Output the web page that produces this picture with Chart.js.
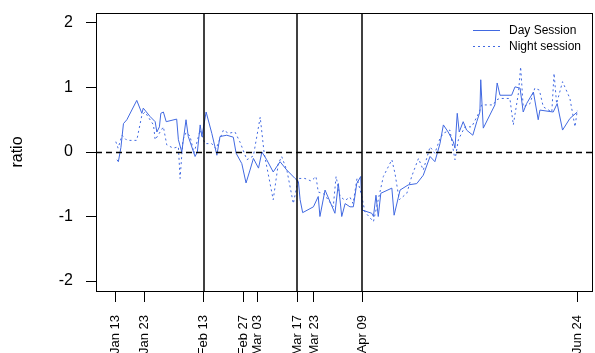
<!DOCTYPE html>
<html>
<head>
<meta charset="utf-8">
<script src="https://cdn.jsdelivr.net/npm/chart.js@4/dist/chart.umd.min.js"></script>
<style>
  html, body { margin: 0; padding: 0; background: #ffffff; }
  canvas { display: block; }
</style>
</head>
<body>
<canvas id="c" width="595" height="353"></canvas>
<script>
// Day-of-year (2020) for each observation
const dayDates = [13.4, 13.9, 14.8, 15.7, 16.9, 20.4, 22.2, 22.7, 25.1, 26.9, 27.5, 28.4, 28.9, 29.8, 30.8,
  34.5, 35.1, 36.3, 37.8, 38.6, 41.0, 41.8, 42.8, 43.4, 44.9, 46.9, 48.7, 49.8, 52.2, 54.5, 55.5, 57.5,
  59.0, 60.4, 61.6, 63.4, 64.6, 66.3, 68.6, 71.0, 73.4, 76.3, 77.5, 78.1, 79.0, 82.8, 84.5, 85.1, 86.9,
  90.4, 91.6, 92.8, 94.0, 95.7, 96.9, 98.1, 99.5, 100.0, 103.4, 104.0, 104.9, 105.7, 106.6, 110.5, 111.3,
  113.4, 116.3, 119.3, 121.6, 124.0, 125.7, 127.5, 128.7, 130.4, 132.2, 132.8, 133.6, 134.3, 135.7, 136.9,
  139.1, 140.5, 141.6, 141.9, 142.8, 146.9, 147.7, 148.7, 152.8, 154.0, 155.8, 156.9, 158.1, 160.5, 162.2,
  162.8, 167.5, 168.9, 170.8, 173.4, 176.0];
const dayValues = [-0.12, -0.15, 0.07, 0.44, 0.50, 0.80, 0.60, 0.68, 0.55, 0.47, 0.31, 0.39, 0.60, 0.62, 0.47,
  0.51, 0.19, 0.00, 0.50, 0.24, -0.07, 0.00, 0.42, 0.24, 0.62, 0.29, -0.05, 0.24, 0.26, 0.23, -0.02, -0.18,
  -0.48, -0.28, -0.10, -0.25, 0.00, -0.12, -0.31, -0.15, -0.28, -0.41, -0.46, -0.74, -0.94, -0.85, -0.69, -1.00, -0.59,
  -0.95, -0.49, -1.00, -0.80, -0.85, -0.85, -0.49, -0.38, -0.90, -0.95, -1.00, -0.67, -1.00, -0.64, -0.56, -0.98,
  -0.59, -0.51, -0.49, -0.36, -0.07, -0.15, 0.13, 0.42, 0.31, 0.16, 0.06, 0.60, 0.31, 0.47, 0.34,
  0.26, 0.47, 0.62, 1.12, 0.37, 0.73, 1.07, 0.88, 0.88, 1.01, 0.99, 0.62, 0.75, 0.93, 0.50,
  0.65, 0.62, 0.75, 0.34, 0.52, 0.62];

const nightDates = [13.0, 13.8, 15.2, 16.9, 20.4, 22.2, 23.3, 26.3, 26.9, 29.8, 31.0, 33.3, 35.1, 35.7, 36.7,
  37.8, 39.2, 40.6, 42.8, 44.5, 46.9, 48.4, 51.0, 52.8, 55.1, 56.9, 59.3, 61.6, 64.0, 65.4, 68.6, 70.4,
  71.6, 73.5, 75.7, 77.5, 79.8, 82.0, 83.7, 84.5, 86.5, 89.8, 90.8, 92.2, 94.0, 95.7, 96.8, 98.2, 99.9,
  101.0, 104.0, 107.5, 110.5, 111.6, 113.1, 115.8, 117.5, 119.9, 121.6, 124.0, 125.7, 127.5, 128.7, 131.0,
  132.8, 134.0, 136.3, 138.7, 141.4, 142.2, 146.3, 147.5, 148.7, 152.2, 153.4, 155.2, 156.0, 156.9, 159.3,
  161.0, 162.6, 164.0, 167.0, 167.8, 168.7, 170.8, 173.4, 175.2, 176.0];
const nightValues = [0.16, 0.06, 0.26, 0.18, 0.18, 0.57, 0.62, 0.42, 0.19, 0.39, 0.11, 0.06, 0.08, -0.41, 0.19,
  0.30, 0.25, -0.02, 0.34, 0.13, 0.13, 0.05, 0.34, 0.29, 0.31, 0.15, -0.12, -0.06, 0.54, -0.02, -0.74, -0.18,
  -0.07, -0.30, -0.80, -0.41, -0.41, -0.45, -0.38, -0.62, -0.65, -0.85, -0.38, -0.69, -0.75, -0.70, -0.80, -0.41, -0.69,
  -0.93, -1.08, -0.38, -0.12, -0.33, -0.74, -0.64, -0.38, -0.10, -0.28, 0.08, -0.02, 0.21, 0.29, 0.34,
  -0.12, 0.19, 0.39, 0.39, 0.62, 0.73, 0.73, 0.81, 0.83, 0.83, 0.42, 0.91, 1.32, 0.70, 0.75,
  0.99, 0.96, 0.70, 0.62, 1.22, 0.75, 1.09, 0.83, 0.39, 0.65];

// Axis ticks
const tickDays = [13, 23, 44, 58, 63, 77, 83, 100, 176];
const tickLabels = ['Jan 13', 'Jan 23', 'Feb 13', 'Feb 27', 'Mar 03', 'Mar 17', 'Mar 23', 'Apr 09', 'Jun 24'];
const yTicks = [-2, -1, 0, 1, 2];

// Reference markers
const markerDays = [44, 77, 100];
const baseline = 0;

const seriesNames = ['Day Session', 'Night session'];
const lineColor = '#4169E1';
const FONT = 'Liberation Sans, Arial, sans-serif';

const toPoints = (xs, ys) => xs.map((x, i) => ({ x: x, y: ys[i] }));

const framePlugin = {
  id: 'frame',
  afterDatasetsDraw(chart) {
    const { ctx, chartArea: a, scales } = chart;
    ctx.save();
    ctx.beginPath();
    ctx.rect(a.left, a.top, a.right - a.left, a.bottom - a.top);
    ctx.clip();
    // horizontal dashed baseline
    const y0 = Math.round(scales.y.getPixelForValue(baseline)) + 0.5;
    ctx.strokeStyle = '#000';
    ctx.lineWidth = 1.3;
    ctx.setLineDash([6, 4]);
    ctx.beginPath();
    ctx.moveTo(a.left, y0);
    ctx.lineTo(a.right, y0);
    ctx.stroke();
    // vertical markers
    ctx.setLineDash([]);
    ctx.lineWidth = 1.5;
    markerDays.forEach(d => {
      const x = Math.round(scales.x.getPixelForValue(d));
      ctx.beginPath();
      ctx.moveTo(x, a.top);
      ctx.lineTo(x, a.bottom);
      ctx.stroke();
    });
    ctx.restore();
    // plot box
    ctx.save();
    ctx.strokeStyle = '#000';
    ctx.lineWidth = 1;
    ctx.strokeRect(Math.round(a.left) + 0.5, Math.round(a.top) + 0.5,
      Math.round(a.right - a.left), Math.round(a.bottom - a.top));
    ctx.restore();
  },
  afterDraw(chart) {
    // legend, top right inside the plot
    const { ctx } = chart;
    ctx.save();
    ctx.font = '12px ' + FONT;
    ctx.textBaseline = 'middle';
    ctx.fillStyle = '#000';
    const rows = [30.5, 46.5];
    chart.data.datasets.forEach((ds, i) => {
      const y = rows[i];
      ctx.strokeStyle = ds.borderColor;
      ctx.lineWidth = ds.borderWidth;
      ctx.setLineDash(ds.borderDash || []);
      ctx.beginPath();
      ctx.moveTo(473, y);
      ctx.lineTo(500, y);
      ctx.stroke();
      ctx.fillText(ds.label, 509, y);
    });
    ctx.restore();
  }
};

new Chart(document.getElementById('c'), {
  type: 'line',
  data: {
    datasets: [
      {
        label: seriesNames[0],
        data: toPoints(dayDates, dayValues),
        borderColor: lineColor,
        borderWidth: 1,
        pointRadius: 0,
        tension: 0,
        fill: false
      },
      {
        label: seriesNames[1],
        data: toPoints(nightDates, nightValues),
        borderColor: lineColor,
        borderWidth: 1,
        borderDash: [2, 3],
        pointRadius: 0,
        tension: 0,
        fill: false
      }
    ]
  },
  options: {
    responsive: false,
    devicePixelRatio: 1,
    animation: false,
    layout: { padding: { left: 0, top: 13, right: 3, bottom: 0 } },
    plugins: { legend: { display: false }, tooltip: { enabled: false } },
    scales: {
      x: {
        type: 'linear',
        position: 'bottom',
        min: 6,
        max: 181.2,
        border: { display: false },
        grid: { display: true, drawOnChartArea: false, drawTicks: true, tickLength: 11, color: '#000', lineWidth: 1 },
        ticks: {
          autoSkip: false,
          maxRotation: 90,
          minRotation: 90,
          padding: 13,
          color: '#000',
          font: { family: FONT, size: 13 },
          callback: (v) => {
            const i = tickDays.indexOf(v);
            return i >= 0 ? tickLabels[i] : '';
          }
        },
        afterBuildTicks: (s) => { s.ticks = tickDays.map(v => ({ value: v })); },
        afterFit: (s) => { s.height = 62; s.paddingLeft = 0; s.paddingRight = 0; }
      },
      y: {
        type: 'linear',
        min: -2.155,
        max: 2.155,
        border: { display: false },
        grid: { display: true, drawOnChartArea: false, drawTicks: true, tickLength: 10, color: '#000', lineWidth: 1 },
        ticks: {
          padding: 13,
          color: '#000',
          font: { family: FONT, size: 16 },
          callback: (v) => String(v)
        },
        title: {
          display: true,
          text: 'ratio',
          color: '#000',
          font: { family: FONT, size: 16 },
          padding: { top: 8, bottom: 0 }
        },
        afterBuildTicks: (s) => { s.ticks = yTicks.map(v => ({ value: v })); },
        afterFit: (s) => { s.width = 96; s.paddingTop = 0; s.paddingBottom = 0; }
      }
    }
  },
  plugins: [framePlugin]
});
</script>
</body>
</html>
